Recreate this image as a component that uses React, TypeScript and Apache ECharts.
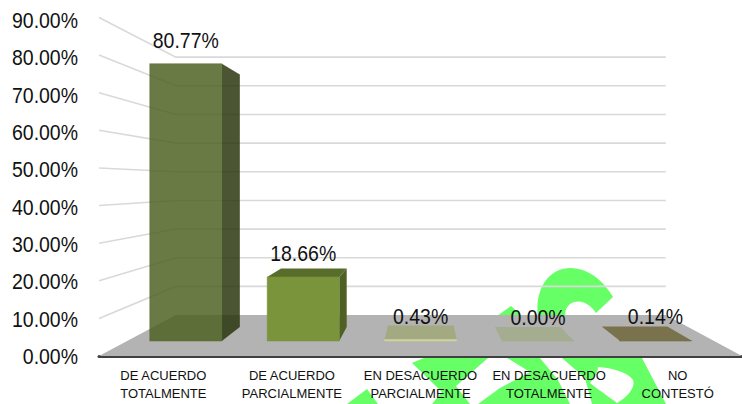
import React, { useEffect, useRef } from "react";
import * as echarts from "echarts";

const categories = [
  "DE ACUERDO\nTOTALMENTE",
  "DE ACUERDO\nPARCIALMENTE",
  "EN DESACUERDO\nPARCIALMENTE",
  "EN DESACUERDO\nTOTALMENTE",
  "NO\nCONTESTÓ",
];
const values = [80.77, 18.66, 0.43, 0.0, 0.14];
const yTicks = [0, 10, 20, 30, 40, 50, 60, 70, 80, 90];
const frontColors = ["rgba(78,97,32,0.84)", "#7A943C", "#D0D39A", "#A5AD91", "#6F6A42"];
const sideColors = ["rgba(42,52,12,0.84)", "#4E6024", "#A3A981", "#A5AD91", "#7A724C"];
const topColors = ["rgba(78,97,32,0.84)", "#586D2A", "#A3A981", "#A5AD91", "#7A724C"];

const VP_X = 422;
const VP_Y = 184;
const DEPTH_BACK = 0.762;
const DEPTH_BAR_FRONT = 0.913;
const DEPTH_BAR_BACK = 0.831;
const BAR_RATIO = 0.614;

const GREEN = "#66FF66";
const WATERMARK =
  "M538,318 C534,285 552,268 570,268 C590,268 605,283 613,297 L596,313 C590,304 582,300 574,302 C566,305 564,312 566,318 Z " +
  "M507,358 L642,358 L666,404 L478,404 L500,388 L530,372 Z " +
  "M412,363 L424,358 L488,358 L456,386 L470,404 L432,404 L442,392 Z " +
  "M497,316 L511,306 L522,316 Z " +
  "M347,404 L367,389 L378,404 Z";
const WHITE_HOLE =
  "M598,367 C612,368 628,372 633,380 C636,388 626,398 617,403 C608,396 596,388 590,383 C594,378 598,372 598,367 Z " +
  "M540,358 L562,358 L585,378 L592,404 L570,404 L558,380 Z";

echarts.graphic.registerShape("watermark", echarts.graphic.extendPath(WATERMARK, {}) as any);
echarts.graphic.registerShape("watermarkHole", echarts.graphic.extendPath(WHITE_HOLE, {}) as any);

const fontMain = "'Liberation Sans', Arial, sans-serif";
const BIG_FONT = `22px ${fontMain}`;
const BIG_SCALE_X = 0.885;

const project = (x: number, y: number, s: number) => [VP_X + (x - VP_X) * s, VP_Y + (y - VP_Y) * s];
const pct = (v: number) => v.toFixed(2) + "%";

export default function App() {
  const ref = useRef<HTMLDivElement>(null);
  useEffect(() => {
    const chart = echarts.init(ref.current!, null, { renderer: "svg" });
    chart.setOption({
      animation: false,
      backgroundColor: "#ffffff",
      graphic: {
        z: -1,
        elements: [
          { type: "watermark", silent: true, style: { fill: GREEN } },
          { type: "watermarkHole", silent: true, style: { fill: "#ffffff" } },
        ],
      },
      grid: { left: 99, right: 0, top: 17.5, bottom: 48, outerBoundsMode: "none" },
      xAxis: {
        type: "category",
        data: categories,
        axisTick: { show: false },
        axisLine: { lineStyle: { color: "#404040", width: 3 } },
        axisLabel: {
          interval: 0,
          margin: 10,
          color: "#111111",
          fontFamily: fontMain,
          fontSize: 13,
          lineHeight: 18,
        },
      },
      yAxis: {
        type: "value",
        min: 0,
        max: 90,
        interval: 10,
        axisLine: { show: false },
        axisTick: { show: false },
        splitLine: { show: false },
        axisLabel: { show: false },
      },
      series: [
        {
          type: "custom",
          z: 1,
          silent: true,
          data: [[0, 0]],
          encode: { x: 0, y: 1 },
          clip: false,
          renderItem: (params: any, api: any) => {
            const cs = params.coordSys;
            const y0 = api.coord([0, 0])[1];
            const l = cs.x;
            const r = cs.x + cs.width;
            return {
              type: "polygon",
              silent: true,
              shape: {
                points: [[l, y0], [r, y0], project(r, y0, DEPTH_BACK), project(l, y0, DEPTH_BACK)],
              },
              style: { fill: "#B3B3B3" },
            };
          },
        },
        {
          type: "custom",
          z: 1,
          silent: true,
          data: yTicks.map((v) => [0, v]),
          encode: { x: 0, y: 1 },
          clip: false,
          renderItem: (params: any, api: any) => {
            const cs = params.coordSys;
            const v = api.value(1);
            const y = api.coord([0, v])[1];
            const l = cs.x;
            const r = cs.x + cs.width;
            const children: any[] = [
              {
                type: "text",
                x: l - 21,
                y: y + v * 0.03,
                scaleX: BIG_SCALE_X,
                style: {
                  text: pct(v),
                  x: 0,
                  y: 0,
                  align: "right",
                  verticalAlign: "middle",
                  fill: "#111111",
                  font: BIG_FONT,
                },
              },
            ];
            if (v > 0) {
              children.push({
                type: "polyline",
                shape: { points: [[l, y], project(l, y, DEPTH_BACK), project(r, y, DEPTH_BACK)] },
                style: { stroke: "#D9D9D9", lineWidth: 1.6, fill: "none" },
              });
            }
            return { type: "group", silent: true, children };
          },
        },
        {
          type: "custom",
          z: 3,
          silent: true,
          data: values.map((v, i) => [i, v]),
          encode: { x: 0, y: 1 },
          clip: false,
          renderItem: (params: any, api: any) => {
            const i = api.value(0);
            const v = api.value(1);
            const [cx, yTop] = api.coord([i, v]);
            const yBase = api.coord([i, 0])[1];
            const half = (api.size([1, 0])[0] * BAR_RATIO) / 2;
            const l = cx - half;
            const r = cx + half;
            const fBL = project(l, yBase, DEPTH_BAR_FRONT);
            const fBR = project(r, yBase, DEPTH_BAR_FRONT);
            const fTL = project(l, yTop, DEPTH_BAR_FRONT);
            const fTR = project(r, yTop, DEPTH_BAR_FRONT);
            const bBL = project(l, yBase, DEPTH_BAR_BACK);
            const bBR = project(r, yBase, DEPTH_BAR_BACK);
            const bTL = project(l, yTop, DEPTH_BAR_BACK);
            const bTR = project(r, yTop, DEPTH_BAR_BACK);
            const children: any[] = [];
            if (bTL[1] < fTL[1]) {
              children.push({
                type: "polygon",
                shape: { points: [fTL, fTR, bTR, bTL] },
                style: { fill: topColors[i] },
              });
            }
            if (bTR[0] > fTR[0]) {
              children.push({
                type: "polygon",
                shape: { points: [fTR, bTR, bBR, fBR] },
                style: { fill: sideColors[i] },
              });
            } else if (bTL[0] < fTL[0] && fBL[1] - fTL[1] > 2) {
              children.push({
                type: "polygon",
                shape: { points: [fTL, bTL, bBL, fBL] },
                style: { fill: sideColors[i] },
              });
            }
            children.push({
              type: "polygon",
              shape: { points: [fTL, fTR, fBR, fBL] },
              style: { fill: frontColors[i], stroke: frontColors[i], lineWidth: 0.5 },
            });
            children.push({
              type: "text",
              x: (fTL[0] + fTR[0]) / 2,
              y: fTL[1] - 24,
              scaleX: BIG_SCALE_X,
              style: {
                text: pct(v),
                x: 0,
                y: 0,
                align: "center",
                verticalAlign: "middle",
                fill: "#111111",
                font: BIG_FONT,
              },
            });
            return { type: "group", silent: true, children };
          },
        },
      ],
    });
    return () => chart.dispose();
  }, []);
  return <div ref={ref} style={{ position: "fixed", left: 0, top: 0, width: 742, height: 404 }} />;
}
